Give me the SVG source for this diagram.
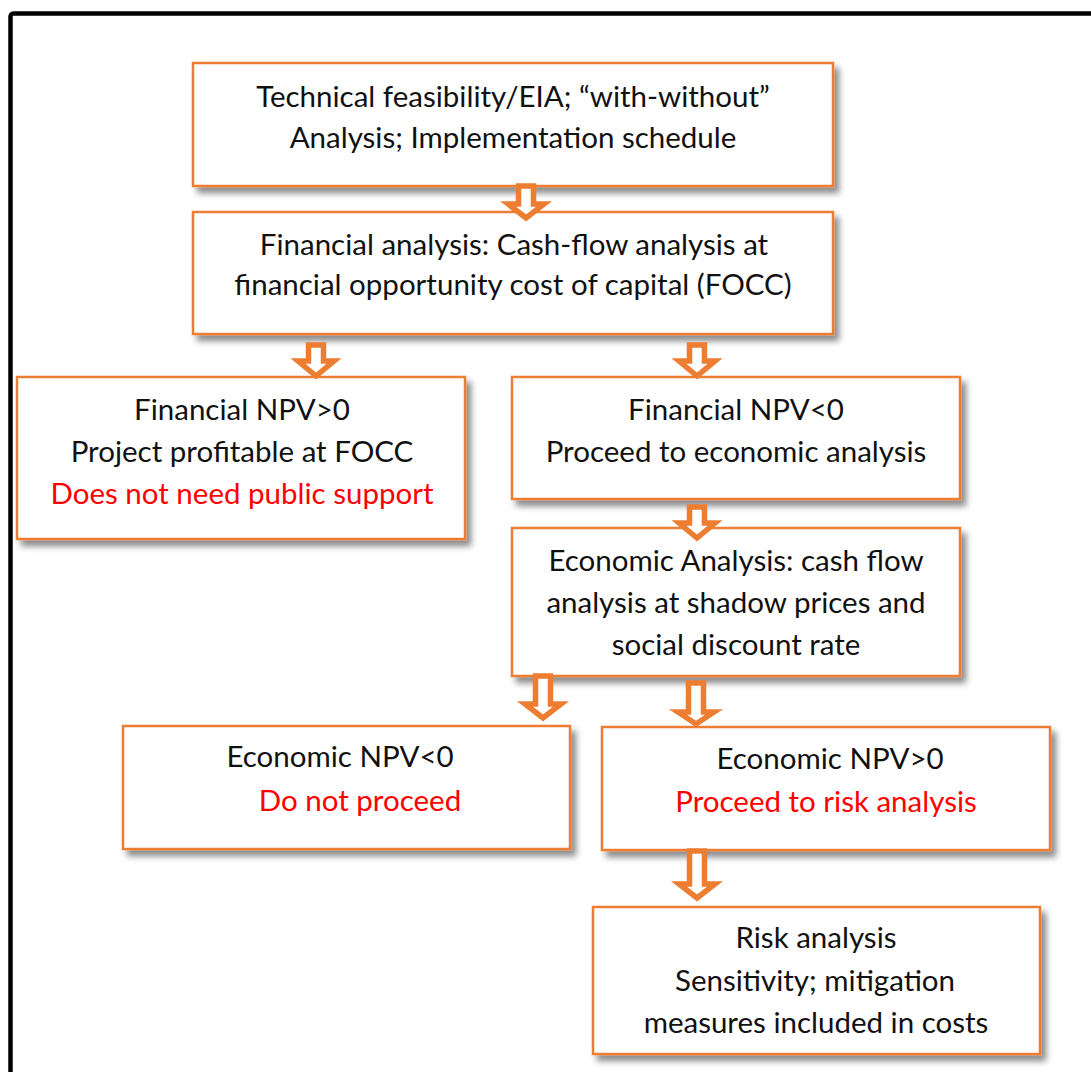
<svg xmlns="http://www.w3.org/2000/svg" width="1091" height="1072" viewBox="0 0 1091 1072">
  <style>
    .box { fill: #ffffff; stroke: #ED7D31; stroke-width: 2.5; filter: url(#shadow); }
    .arrow { fill: #ffffff; stroke: #ED7D31; stroke-width: 5.5; stroke-linejoin: miter; stroke-miterlimit: 6; }
    text { font-family: Lato, "Open Sans", "Liberation Sans", sans-serif; font-size: 29.5px; fill: #111111; text-anchor: middle; }
    .red { fill: #FF0000; }
  </style>
  <defs>
    <filter id="shadow" x="-10%" y="-10%" width="125%" height="130%">
      <feDropShadow dx="5" dy="6" stdDeviation="3" flood-color="#000000" flood-opacity="0.45"/>
    </filter>
  </defs>

  <rect width="1091" height="1072" fill="#ffffff"/>
  <!-- outer frame -->
  <rect x="10.5" y="13.5" width="1100" height="1100" rx="3" fill="none" stroke="#000000" stroke-width="4.5"/>

  <g id="technical">
    <rect class="box" x="193" y="63" width="640" height="123"/>
    <text x="513" y="107">Technical feasibility/EIA; “with-without”</text>
    <text x="513" y="148">Analysis; Implementation schedule</text>
  </g>

  <g id="financial-analysis">
    <rect class="box" x="193" y="212" width="640" height="122"/>
    <text x="514" y="255">Financial analysis: Cash-flow analysis at</text>
    <text x="513" y="295">financial opportunity cost of capital (FOCC)</text>
  </g>

  <g id="fnpv-positive">
    <rect class="box" x="17" y="377" width="448" height="162"/>
    <text x="242" y="420">Financial NPV&gt;0</text>
    <text x="242" y="462">Project profitable at FOCC</text>
    <text x="242" y="504" class="red">Does not need public support</text>
  </g>

  <g id="fnpv-negative">
    <rect class="box" x="512" y="377" width="448" height="122"/>
    <text x="736" y="420">Financial NPV&lt;0</text>
    <text x="736" y="462">Proceed to economic analysis</text>
  </g>

  <g id="economic-analysis">
    <rect class="box" x="512" y="528" width="448" height="148"/>
    <text x="736" y="571">Economic Analysis: cash flow</text>
    <text x="736" y="613">analysis at shadow prices and</text>
    <text x="736" y="655">social discount rate</text>
  </g>

  <g id="enpv-negative">
    <rect class="box" x="123" y="726" width="447" height="123"/>
    <text x="340" y="767">Economic NPV&lt;0</text>
    <text x="360" y="811" class="red">Do not proceed</text>
  </g>

  <g id="enpv-positive">
    <rect class="box" x="602" y="727" width="448" height="123"/>
    <text x="830" y="769">Economic NPV&gt;0</text>
    <text x="826" y="812" class="red">Proceed to risk analysis</text>
  </g>

  <g id="risk-analysis">
    <rect class="box" x="593" y="907" width="447" height="147"/>
    <text x="816" y="948">Risk analysis</text>
    <text x="815" y="991">Sensitivity; mitigation</text>
    <text x="816" y="1033">measures included in costs</text>
  </g>

  <!-- hollow block arrows: shaft, then a wide triangular head -->
  <g id="connectors" class="arrow">
    <path d="M 518.5 186 H 533.5 V 204 H 544 L 526 218 L 508 204 H 518.5 Z"/>
    <path d="M 308.5 345 H 323.5 V 361 H 334 L 316 376 L 298 361 H 308.5 Z"/>
    <path d="M 689.5 345 H 704.5 V 361 H 715 L 697 376 L 679 361 H 689.5 Z"/>
    <path d="M 689.5 507 H 704.5 V 523 H 715 L 697 538 L 679 523 H 689.5 Z"/>
    <path d="M 535.5 676 H 550.5 V 704 H 561 L 543 718 L 525 704 H 535.5 Z"/>
    <path d="M 688.5 683 H 703.5 V 712 H 714 L 696 724 L 678 712 H 688.5 Z"/>
    <path d="M 689.5 851 H 704.5 V 884 H 715 L 697 898 L 679 884 H 689.5 Z"/>
  </g>
</svg>
